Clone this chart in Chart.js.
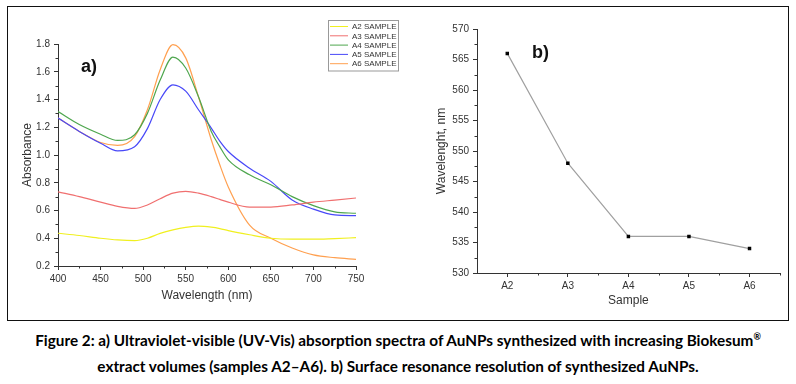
<!DOCTYPE html>
<html>
<head>
<meta charset="utf-8">
<script src="https://cdn.jsdelivr.net/npm/chart.js@4.4.1/dist/chart.umd.min.js"></script>
<style>
	body { margin: 0; background: #fff; }
	#page { position: relative; width: 796px; height: 384px; background: #fff; overflow: hidden; }
	#frame { position: absolute; left: 7px; top: 6px; width: 780px; height: 313px; border: 1px solid #111; }
	#chartA { position: absolute; left: 10px; top: 8px; }
	#chartB { position: absolute; left: 405px; top: 8px; }
	.tag { position: absolute; font: bold 18px "Liberation Sans", Arial, sans-serif; color: #111; }
	#caption { position: absolute; left: 0; top: 327px; width: 796px; text-align: center;
		font: bold 15.3px Lato, "Open Sans", sans-serif; line-height: 26px; color: #000; }
	#caption sup { font-size: 9px; vertical-align: 6px; line-height: 0; }
</style>
</head>
<body>
<div id="page">
	<div id="frame"></div>
	<canvas id="chartA" width="392" height="300"></canvas>
	<canvas id="chartB" width="380" height="305"></canvas>
	<div class="tag" style="left:81px; top:56px;">a)</div>
	<div class="tag" style="left:532px; top:42px;">b)</div>
	<div id="caption">Figure 2: a) Ultraviolet-visible (UV-Vis) absorption spectra of AuNPs synthesized with increasing Biokesum<sup>&reg;</sup><br>extract volumes (samples A2&ndash;A6). b) Surface resonance resolution of synthesized AuNPs.</div>
</div>
<script>
/* a) UV-Vis spectra */
var wavelengths = [400, 425, 450, 470, 490, 505, 520, 535, 550, 565, 580, 590, 600, 625, 650, 675, 700, 725, 750];
var seriesNames = ['A2 SAMPLE', 'A3 SAMPLE', 'A4 SAMPLE', 'A5 SAMPLE', 'A6 SAMPLE'];
var absA2 = [0.436, 0.420, 0.400, 0.388, 0.383, 0.400, 0.435, 0.460, 0.478, 0.487, 0.480, 0.470, 0.455, 0.425, 0.400, 0.393, 0.393, 0.398, 0.404];
var absA3 = [0.735, 0.700, 0.660, 0.630, 0.615, 0.640, 0.685, 0.725, 0.738, 0.725, 0.700, 0.680, 0.660, 0.625, 0.625, 0.640, 0.660, 0.675, 0.690];
var absA4 = [1.314, 1.220, 1.150, 1.105, 1.146, 1.300, 1.540, 1.706, 1.627, 1.420, 1.170, 1.060, 0.965, 0.857, 0.785, 0.700, 0.635, 0.590, 0.580];
var absA5 = [1.266, 1.170, 1.085, 1.030, 1.060, 1.190, 1.400, 1.506, 1.460, 1.326, 1.194, 1.100, 1.025, 0.905, 0.810, 0.676, 0.610, 0.568, 0.563];
var absA6 = [1.266, 1.170, 1.090, 1.069, 1.133, 1.326, 1.615, 1.795, 1.700, 1.420, 1.110, 0.930, 0.770, 0.495, 0.400, 0.330, 0.280, 0.260, 0.248];
var lineColors = ['#f0f020', '#f07070', '#4ea64e', '#4848f8', '#ffa050'];

/* b) peak position per sample */
var samples = ['A2', 'A3', 'A4', 'A5', 'A6'];
var peakNm = [566, 548, 536, 536, 534];

Chart.defaults.font.family = '"Liberation Sans", Arial, sans-serif';
Chart.defaults.font.size = 10;
Chart.defaults.color = '#333';
Chart.defaults.animation = false;

/* minor ticks half way between the major ones, on both axes */
var minorTicks = {
	id: 'minorTicks',
	afterDraw: function(chart) {
		var ctx = chart.ctx;
		ctx.save();
		ctx.strokeStyle = '#333';
		ctx.lineWidth = 1;
		['x', 'y'].forEach(function(id) {
			var scale = chart.scales[id];
			var px = scale.ticks.map(function(t, i) { return scale.getPixelForTick(i); });
			var mids = [];
			for (var i = 0; i < px.length - 1; i++) mids.push((px[i] + px[i + 1]) / 2);
			if (scale.type == 'category') {
				var half = (px[1] - px[0]) / 2;
				mids.push(px[px.length - 1] + half);
			}
			mids.forEach(function(p) {
				ctx.beginPath();
				if (id == 'x') {
					ctx.moveTo(Math.round(p) + 0.5, scale.top);
					ctx.lineTo(Math.round(p) + 0.5, scale.top + 2.5);
				} else {
					ctx.moveTo(scale.right, Math.round(p) + 0.5);
					ctx.lineTo(scale.right - 2.5, Math.round(p) + 0.5);
				}
				ctx.stroke();
			});
		});
		ctx.restore();
	}
};

/* boxed legend in the top right corner of panel a) */
var boxLegend = {
	id: 'boxLegend',
	afterDraw: function(chart) {
		var ctx = chart.ctx, x = 318, y = 12, w = 70, rowH = 9.3;
		var sets = chart.data.datasets;
		ctx.save();
		ctx.fillStyle = '#fff';
		ctx.fillRect(x, y, w, sets.length * rowH + 4);
		ctx.strokeStyle = '#999';
		ctx.lineWidth = 1;
		ctx.strokeRect(x + 0.5, y + 0.5, w, sets.length * rowH + 4);
		ctx.font = '8px "Liberation Sans", Arial, sans-serif';
		ctx.textBaseline = 'middle';
		sets.forEach(function(ds, i) {
			var ry = y + 6.5 + i * rowH;
			ctx.strokeStyle = ds.borderColor;
			ctx.beginPath();
			ctx.moveTo(x + 2, ry);
			ctx.lineTo(x + 20, ry);
			ctx.stroke();
			ctx.fillStyle = '#333';
			ctx.fillText(ds.label, x + 24, ry + 0.5);
		});
		ctx.restore();
	}
};

function axisStyle(extra) {
	return Object.assign({
		border: { display: true, color: '#333', width: 1 },
		grid: { display: true, drawOnChartArea: false, tickLength: 4, tickColor: '#333' }
	}, extra);
}

new Chart(document.getElementById('chartA'), {
	type: 'line',
	data: {
		datasets: seriesNames.map(function(name, i) {
			var ys = [absA2, absA3, absA4, absA5, absA6][i];
			return {
				label: name,
				data: wavelengths.map(function(w, j) { return { x: w, y: ys[j] }; }),
				borderColor: lineColors[i],
				borderWidth: 1.2,
				pointRadius: 0,
				cubicInterpolationMode: 'monotone',
				fill: false
			};
		})
	},
	options: {
		responsive: false,
		layout: { padding: { left: 6, top: 36, right: 46, bottom: 1 } },
		plugins: { legend: { display: false }, tooltip: { enabled: false } },
		scales: {
			x: axisStyle({
				type: 'linear', min: 400, max: 750,
				ticks: { stepSize: 50, padding: 3, maxRotation: 0 },
				title: { display: true, text: 'Wavelength (nm)', font: { size: 12 }, padding: { top: 2, bottom: 4 } },
				afterFit: function(s) { s.height = 41; }
			}),
			y: axisStyle({
				min: 0.2, max: 1.8,
				ticks: { stepSize: 0.2, padding: 4, callback: function(v) { return v.toFixed(1); } },
				title: { display: true, text: 'Absorbance', font: { size: 12 }, padding: { top: 4, bottom: 2 } },
				afterFit: function(s) { s.width = 42; }
			})
		}
	},
	plugins: [minorTicks, boxLegend]
});

new Chart(document.getElementById('chartB'), {
	type: 'line',
	data: {
		labels: samples,
		datasets: [{
			data: peakNm,
			borderColor: '#a0a0a0',
			borderWidth: 1.2,
			pointStyle: 'rect',
			pointRadius: 1.6,
			pointBackgroundColor: '#000',
			pointBorderColor: '#000',
			tension: 0
		}]
	},
	options: {
		responsive: false,
		layout: { padding: { left: 25, top: 21, right: 2, bottom: 1 } },
		plugins: { legend: { display: false }, tooltip: { enabled: false } },
		scales: {
			x: axisStyle({
				type: 'category', offset: true,
				ticks: { padding: 3 },
				title: { display: true, text: 'Sample', font: { size: 12 }, padding: { top: 2, bottom: 4 } },
				afterFit: function(s) { s.height = 39; }
			}),
			y: axisStyle({
				min: 530, max: 570,
				ticks: { stepSize: 5, padding: 4 },
				title: { display: true, text: 'Wavelenght, nm', font: { size: 12 }, padding: { top: 4, bottom: 2 } },
				afterFit: function(s) { s.width = 47; }
			})
		}
	},
	plugins: [minorTicks]
});
</script>
</body>
</html>
